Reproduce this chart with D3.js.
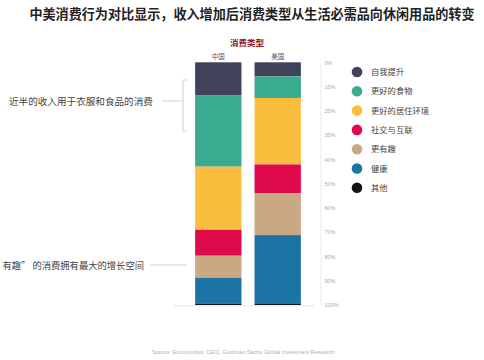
<!DOCTYPE html>
<html><head><meta charset="utf-8">
<script src="https://cdn.jsdelivr.net/npm/d3@7"></script>
<style>
html,body{margin:0;padding:0;background:#fff;}
svg{display:block;font-family:"Noto Sans CJK SC","Noto Sans",sans-serif;}
</style></head>
<body><svg id="c" width="484" height="360"></svg>
<script>
const countries = ["中国", "美国"];
const categories = ["自我提升", "更好的食物", "更好的居住环境", "社交与互联", "更有趣", "健康", "其他"];
const chinaValues = [13.5, 29.5, 26.0, 10.7, 9.1, 10.7, 0.5];
const usValues = [5.8, 8.9, 27.4, 11.9, 17.2, 28.2, 0.6];
const colors = ["#40425a", "#3aab8f", "#fbbd3d", "#de0a4b", "#c8a983", "#1b74a3", "#141414"];
const tickValues = [0, 10, 20, 30, 40, 50, 60, 70, 80, 90, 100];

const svg = d3.select("#c");

// Title
svg.append("text").attr("x", 252).attr("y", 19).attr("text-anchor", "middle")
  .attr("font-size", 13.1).attr("font-weight", "bold").attr("fill", "#222")
  .text("中美消费行为对比显示，收入增加后消费类型从生活必需品向休闲用品的转变");

// Chart title
svg.append("text").attr("x", 247).attr("y", 46).attr("text-anchor", "middle")
  .attr("font-size", 8.5).attr("font-weight", "bold").attr("fill", "#8c1c2c")
  .text("消费类型");

const data = countries.map((c, i) => {
  const vals = i === 0 ? chinaValues : usValues;
  const o = {country: c};
  categories.forEach((k, j) => o[k] = vals[j]);
  return o;
});

const x = d3.scaleBand().domain(countries).range([188, 308]).paddingInner(0.22).paddingOuter(0.12);
const y = d3.scaleLinear().domain([0, 100]).range([62.3, 305]);

const stack = d3.stack().keys(categories)(data);

svg.append("g").selectAll("g").data(stack).join("g")
  .attr("fill", (d, i) => colors[i])
  .selectAll("rect").data(d => d).join("rect")
  .attr("x", d => x(d.data.country))
  .attr("width", x.bandwidth())
  .attr("y", d => y(d[0]))
  .attr("height", d => y(d[1]) - y(d[0]));

// Country labels
svg.append("g").selectAll("text").data(countries).join("text")
  .attr("x", d => x(d) + x.bandwidth() / 2).attr("y", 59)
  .attr("text-anchor", "middle").attr("font-size", 6.5).attr("fill", "#555")
  .text(d => d);

// Baseline
svg.append("line").attr("x1", 174).attr("x2", 314).attr("y1", 305.8).attr("y2", 305.8)
  .attr("stroke", "#ddd").attr("stroke-width", 0.8);

// Right axis
const axis = d3.axisRight(y).tickValues(tickValues).tickSize(0).tickPadding(4)
  .tickFormat(d => d + "%");
const ag = svg.append("g").attr("transform", "translate(320.5,0)").call(axis);
ag.select(".domain").attr("stroke", "#e6e6e6").attr("stroke-width", 0.8);
ag.selectAll("text").attr("font-size", 5.5).attr("fill", "#aaa")
  .attr("font-family", "Liberation Sans, sans-serif");

// Legend
const lg = svg.append("g").selectAll("g").data(categories).join("g")
  .attr("transform", (d, i) => `translate(357,${72 + i * 19.3})`);
lg.append("circle").attr("r", 5.3).attr("fill", (d, i) => colors[i]);
lg.append("text").attr("x", 14).attr("y", 3).attr("font-size", 8.3).attr("fill", "#444").text(d => d);

// Bracket annotation (top)
const br = svg.append("g").attr("stroke", "#ccc").attr("stroke-width", 0.9).attr("fill", "none");
br.append("path").attr("d", "M187,80 H183 V131 H187");
br.append("line").attr("x1", 162).attr("x2", 183).attr("y1", 101).attr("y2", 101);
svg.append("text").attr("x", 9).attr("y", 104.5).attr("font-size", 9.6).attr("fill", "#444")
  .text("近半的收入用于衣服和食品的消费");

// Bottom annotation
svg.append("line").attr("x1", 150).attr("x2", 187).attr("y1", 265).attr("y2", 265)
  .attr("stroke", "#ccc").attr("stroke-width", 0.9);
svg.append("text").attr("x", 144).attr("y", 268.5).attr("text-anchor", "end")
  .attr("font-size", 9.3).attr("fill", "#444")
  .text("有趣” 的消费拥有最大的增长空间");

// Source
svg.append("text").attr("x", 152).attr("y", 354).attr("font-size", 5.6).attr("fill", "#b0b0b0")
  .attr("font-family", "Liberation Sans, sans-serif")
  .text("Source: Euromonitor, CEIC, Goldman Sachs Global Investment Research");
</script></body></html>
